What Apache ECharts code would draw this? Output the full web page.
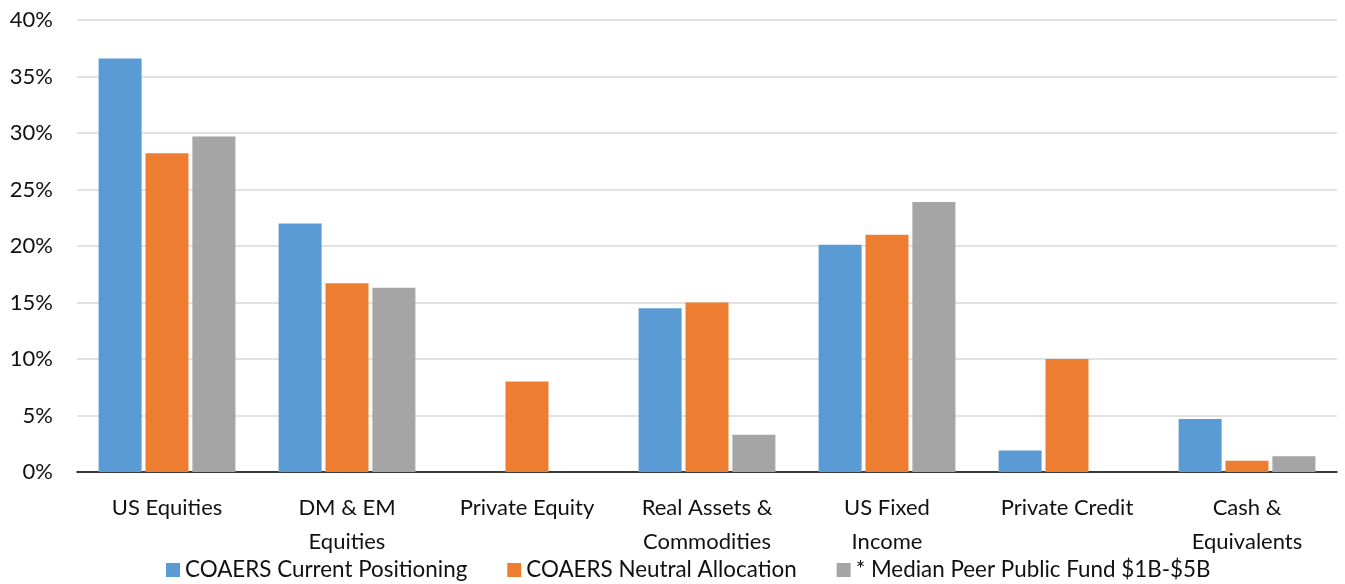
<!DOCTYPE html>
<html>
<head>
<meta charset="utf-8">
<script src="https://cdn.jsdelivr.net/npm/echarts@6/dist/echarts.min.js"></script>
<style>
  html, body { margin: 0; padding: 0; background: #fff; }
  #chart { width: 1345px; height: 584px; }
</style>
</head>
<body>
<div id="chart"></div>
<script>
  // asset classes along the x axis
  var categories = ['US Equities', 'DM & EM\nEquities', 'Private Equity', 'Real Assets &\nCommodities',
    'US Fixed\nIncome', 'Private Credit', 'Cash &\nEquivalents'];
  // percent values
  var currentPositioning = [36.6, 22.0, null, 14.5, 20.1, 1.9, 4.7];
  var neutralAllocation = [28.2, 16.7, 8.0, 15.0, 21.0, 10.0, 1.0];
  var medianPeer = [29.7, 16.3, null, 3.3, 23.9, null, 1.4];
  var yTicks = [0, 5, 10, 15, 20, 25, 30, 35, 40];

  var font = 'Lato, sans-serif';
  var chart = echarts.init(document.getElementById('chart'));
  var option = {
    animation: false,
    textStyle: { fontFamily: font },
    color: ['#5b9bd5', '#ed7d31', '#a5a5a5'],
    grid: { left: 77, right: 8, top: 20, bottom: 112 },
    legend: {
      bottom: -2,
      left: 161,
      itemWidth: 14,
      itemHeight: 14,
      itemGap: 40,
      icon: 'rect',
      textStyle: { fontSize: 22.4, color: '#111', fontFamily: font },
      data: ['COAERS Current Positioning', 'COAERS Neutral Allocation', '* Median Peer Public Fund $1B-$5B']
    },
    xAxis: {
      type: 'category',
      data: categories,
      axisTick: { show: false },
      axisLine: { lineStyle: { color: '#000', width: 1.5 } },
      axisLabel: { fontSize: 22, color: '#111', margin: 19, lineHeight: 34, interval: 0, fontFamily: font }
    },
    yAxis: {
      type: 'value',
      min: yTicks[0],
      max: yTicks[yTicks.length - 1],
      interval: 5,
      axisLine: { show: false },
      axisTick: { show: false },
      splitLine: { lineStyle: { color: '#d9d9d9', width: 1.5 } },
      axisLabel: { fontSize: 22, color: '#111', margin: 24, formatter: '{value}%', fontFamily: font }
    },
    series: [
      { name: 'COAERS Current Positioning', type: 'bar', data: currentPositioning, barGap: '9%', barCategoryGap: '24%' },
      { name: 'COAERS Neutral Allocation', type: 'bar', data: neutralAllocation },
      { name: '* Median Peer Public Fund $1B-$5B', type: 'bar', data: medianPeer }
    ]
  };
  chart.setOption(option);
</script>
</body>
</html>
